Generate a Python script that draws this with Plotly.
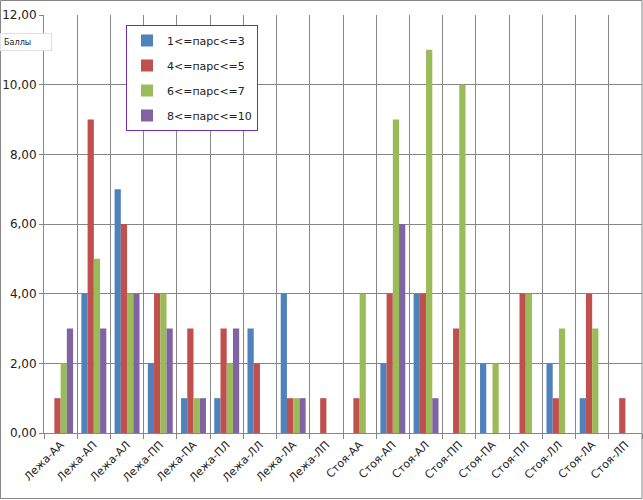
import plotly.graph_objects as go

categories = ['Лежа-АА', 'Лежа-АП', 'Лежа-АЛ', 'Лежа-ПП', 'Лежа-ПА', 'Лежа-ПЛ',
              'Лежа-ЛЛ', 'Лежа-ЛА', 'Лежа-ЛП', 'Стоя-АА', 'Стоя-АП', 'Стоя-АЛ',
              'Стоя-ПП', 'Стоя-ПА', 'Стоя-ПЛ', 'Стоя-ЛЛ', 'Стоя-ЛА', 'Стоя-ЛП']

pars_1_3 = [0, 4, 7, 2, 1, 1, 3, 4, 0, 0, 2, 4, 0, 2, 0, 2, 1, 0]
pars_4_5 = [1, 9, 6, 4, 3, 3, 2, 1, 1, 1, 4, 4, 3, 0, 4, 1, 4, 1]
pars_6_7 = [2, 5, 4, 4, 1, 2, 0, 1, 0, 4, 9, 11, 10, 2, 4, 3, 3, 0]
pars_8_10 = [3, 3, 4, 3, 1, 3, 0, 1, 0, 0, 6, 1, 0, 0, 0, 0, 0, 0]

series = [
    ('1<=парс<=3', pars_1_3, '#4f81bd'),
    ('4<=парс<=5', pars_4_5, '#c0504d'),
    ('6<=парс<=7', pars_6_7, '#9bbb59'),
    ('8<=парс<=10', pars_8_10, '#8064a2'),
]

fig = go.Figure()
for name, vals, color in series:
    fig.add_trace(go.Bar(name=name, x=categories, y=vals, marker_color=color,
                         marker_line_width=0, legendgroup=name))

grid = '#868686'
pw, ph = 598, 418
fig.update_layout(
    width=643, height=500,
    margin=dict(l=44, r=1, t=15, b=67, autoexpand=False),
    paper_bgcolor='white', plot_bgcolor='white',
    barmode='group', bargap=0.25, bargroupgap=0,
    separators=', ',
    font=dict(family='DejaVu Sans', size=11, color='#222222'),
    legend=dict(x=(126 - 44) / pw, y=(433 - 25) / ph, xanchor='left', yanchor='top',
                bordercolor='#7030a0', borderwidth=1, bgcolor='white',
                itemwidth=30, tracegroupgap=6, font=dict(size=11)),
    xaxis=dict(type='category', tickson='boundaries', showgrid=True, gridcolor=grid,
               gridwidth=1, ticks='outside', ticklen=5, tickcolor=grid, automargin=False,
               showline=True, linecolor=grid, tickangle=-45, tickfont=dict(size=11)),
    yaxis=dict(range=[0, 12], dtick=2, tickformat='.2f', showgrid=True, gridcolor=grid,
               ticks='outside', ticklen=4, tickcolor=grid, showline=True, linecolor=grid,
               zeroline=False, automargin=False, tickfont=dict(size=12)),
    annotations=[dict(text='Баллы', xref='paper', yref='paper',
                      x=-44 / pw, y=(433 - 33) / ph, xanchor='left', yanchor='top',
                      showarrow=False, font=dict(size=9, family='Liberation Sans Narrow, DejaVu Sans Condensed'),
                      bordercolor='#d9e1ea', borderwidth=1, bgcolor='white',
                      width=44, align='left', borderpad=3)],
    shapes=[dict(type='rect', xref='paper', yref='paper',
                 x0=-43.5 / pw, x1=1.0, y0=-65.5 / ph, y1=(418 + 14.5) / ph,
                 line=dict(color='#868686', width=1))],
)

fig.write_html('out.html', config={'displayModeBar': False},
               post_script="document.body.style.margin='0';")
